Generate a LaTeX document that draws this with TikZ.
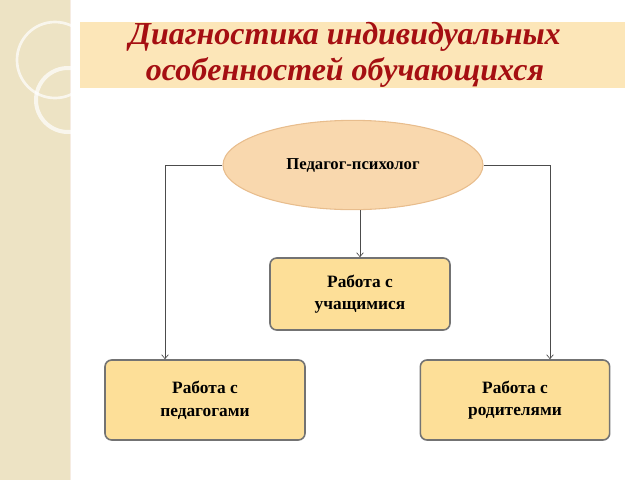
\documentclass[tikz,border=0pt]{standalone}
\usepackage{fontspec}
\setmainfont{Liberation Serif}
\usetikzlibrary{arrows.meta,shapes.geometric}
\definecolor{strip}{HTML}{EDE3C4}
\definecolor{band}{HTML}{FCE6B8}
\definecolor{ttl}{HTML}{A50F12}
\definecolor{boxf}{HTML}{FDDF98}
\definecolor{ellf}{HTML}{F9D8AE}
\tikzset{
 conn/.style={draw=black!70, line width=0.5pt, -{Straight Barb[length=3pt,width=5pt]}},
 workbox/.style={rectangle, rounded corners=5pt, fill=boxf, draw=black!55, line width=1.2pt, align=center, font=\bfseries\fontsize{13}{17}\selectfont, inner sep=0pt},
 oval/.style={ellipse, fill=ellf, draw=ellf!70!brown, line width=0.8pt, font=\bfseries\fontsize{12.5}{15}\selectfont, inner sep=0pt}
}
\begin{document}
\begin{tikzpicture}[x=0.75pt,y=-0.75pt]
\useasboundingbox (0,0) rectangle (640,480);
\fill[strip] (0,0) rectangle (70,480);
\draw[white!85!brown, line width=0.6pt] (70,0) -- (70,480);
\draw[white, line width=2pt, opacity=0.7] (55,60) circle (38);
\draw[white, line width=3pt, opacity=0.7] (68,100) circle (32);
\fill[band] (80,22) rectangle (625,88);
\node[font=\bfseries\itshape\fontsize{24}{27}\selectfont, text=ttl, align=center] (title) at (345,55) {Диагностика индивидуальных\\особенностей обучающихся};
\node[oval, minimum width=195pt, minimum height=67pt] (pp) at (353,165) {Педагог-психолог};
\node[workbox, minimum width=135pt, minimum height=54pt] (st) at (360,294) {Работа с\\учащимися};
\node[workbox, minimum width=150pt, minimum height=60pt] (pd) at (205,400) {Работа с\\педагогами};
\node[workbox, minimum width=142pt, minimum height=60pt] (rd) at (515,400) {Работа с\\родителями};
\draw[conn] (pp.south -| st.north) -- (st.north);
\draw[conn] (pp.west) -- (165,165) coordinate (lc) -- (lc |- pd.north);
\draw[conn] (pp.east) -- (550,165) coordinate (rc) -- (rc |- rd.north);
\end{tikzpicture}
\end{document}
